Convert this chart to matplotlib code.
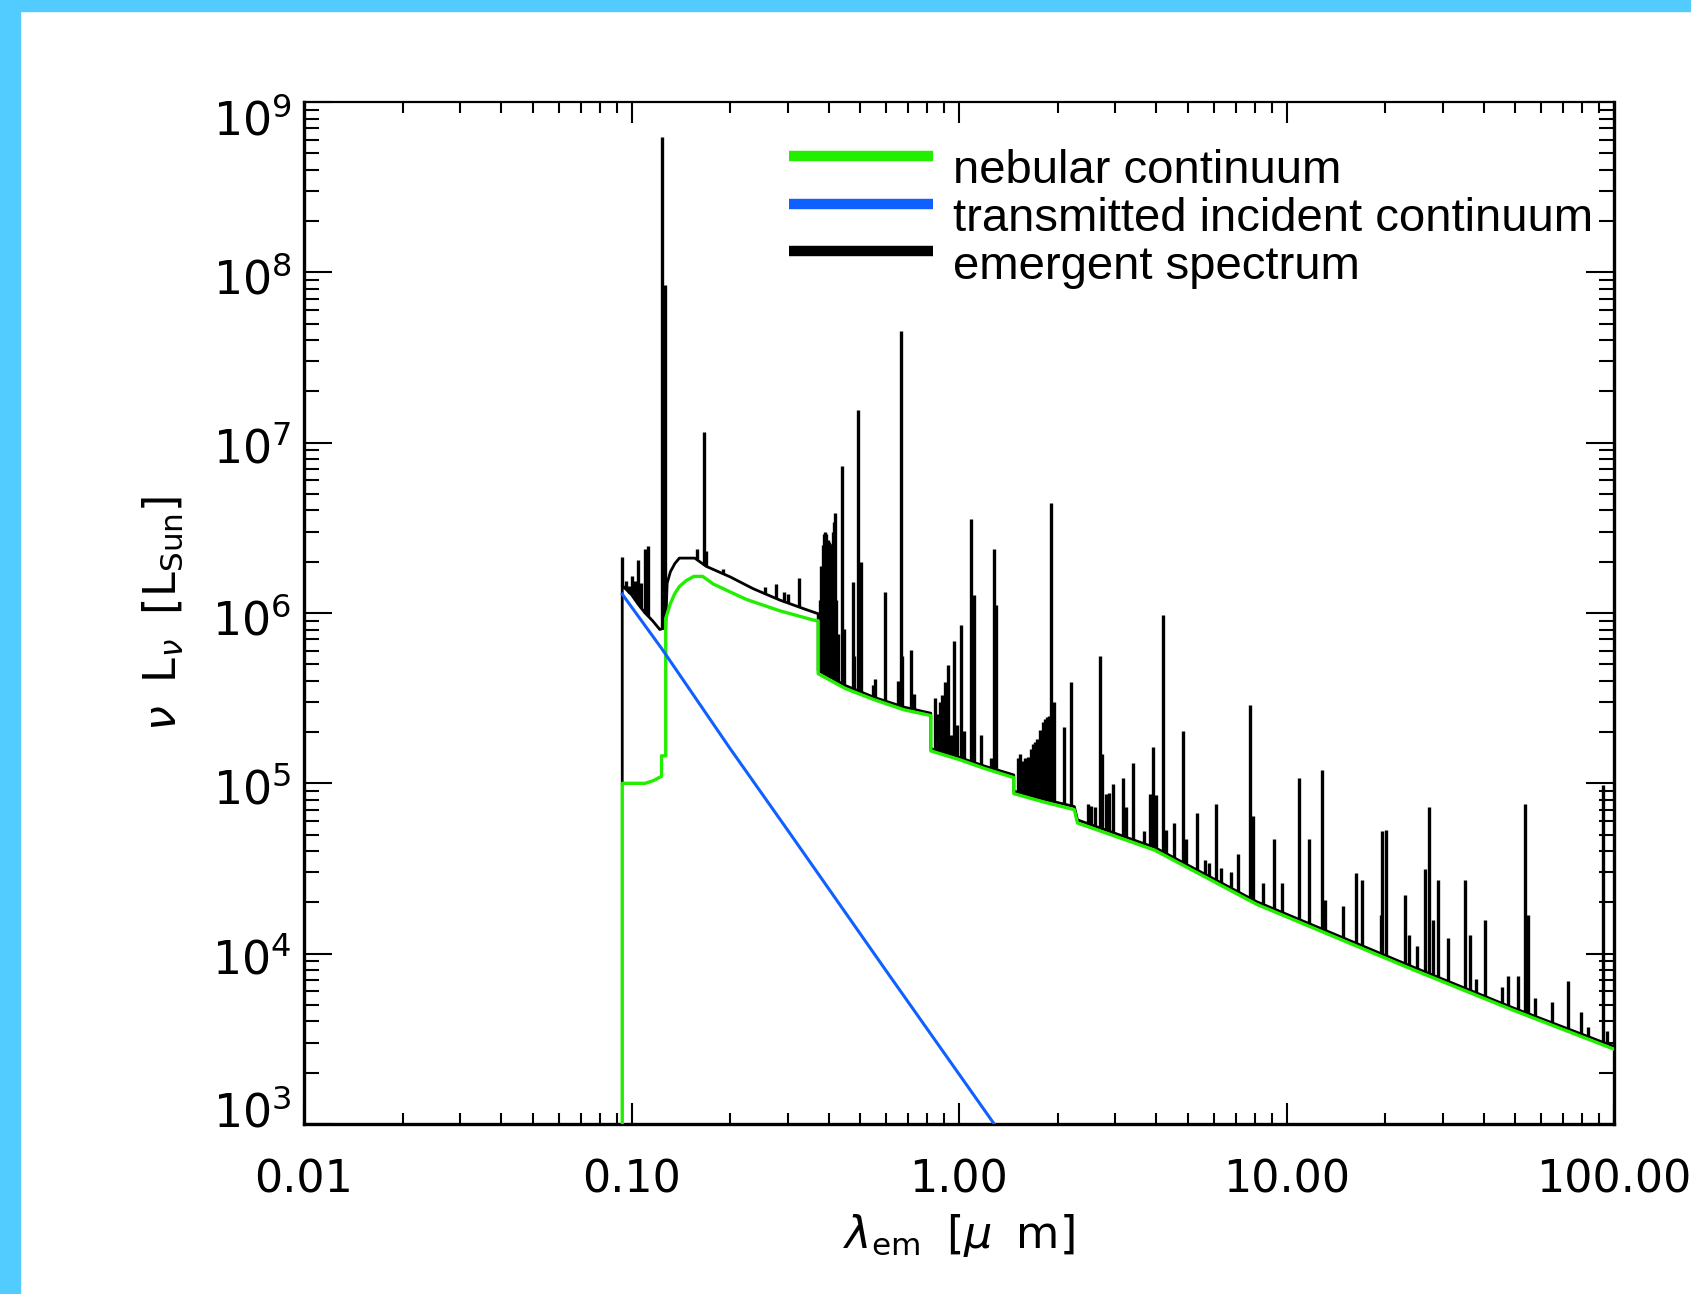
import numpy as np
import matplotlib
matplotlib.use("Agg")
import matplotlib.pyplot as plt
from matplotlib.patches import Rectangle
from matplotlib.lines import Line2D
from matplotlib.legend_handler import HandlerLine2D
from matplotlib.ticker import LogLocator, NullFormatter
from matplotlib.transforms import ScaledTranslation

# nebular continuum (green), wavelength in micron, nu L_nu in L_sun
neb_lam = [0.0937, 0.0937, 0.110, 0.117, 0.1235, 0.1235, 0.1272, 0.1272, 0.1315,
           0.1356, 0.140, 0.147, 0.155, 0.165, 0.1776, 0.20, 0.2245, 0.2837, 0.3585,
           0.3715, 0.3715, 0.45, 0.55, 0.68, 0.82, 0.82, 1.0, 1.2, 1.47, 1.47, 1.8,
           2.25, 2.3, 3.96, 8.1, 23.8, 48.6, 100.0]
neb_lum = [1e2, 1.0e5, 1.0e5, 1.04e5, 1.1e5, 1.45e5, 1.45e5, 9.3e5, 1.14e6,
           1.3e6, 1.43e6, 1.55e6, 1.64e6, 1.64e6, 1.48e6, 1.33e6, 1.2e6, 1.03e6, 9.1e5,
           9.0e5, 4.4e5, 3.6e5, 3.1e5, 2.7e5, 2.5e5, 1.55e5, 1.38e5, 1.22e5, 1.08e5, 8.7e4, 7.8e4,
           7.0e4, 5.85e4, 4.05e4, 1.95e4, 8.2e3, 4.7e3, 2.75e3]

# transmitted incident continuum (blue)
inc_lam = [0.0937, 0.1235, 0.20, 0.30, 0.60, 1.30, 2.0]
inc_lum = [1.29e6, 6.2e5, 1.6e5, 5.3e4, 7.9e3, 9.6e2, 2.9e2]

# emergent spectrum, continuum level under the lines (black)
emg_lam = [0.0937, 0.0937, 0.100, 0.105, 0.110, 0.116, 0.122, 0.127, 0.1285, 0.1315,
           0.1356, 0.140, 0.156, 0.169, 0.200, 0.235, 0.284, 0.34, 0.3715, 0.3715,
           0.45, 0.55, 0.68, 0.82, 0.82, 1.0, 1.2, 1.47, 1.47, 1.8, 2.25, 2.3, 3.96,
           8.1, 23.8, 48.6, 100.0]
emg_lum = [1.0e5, 1.45e6, 1.28e6, 1.12e6, 1.0e6, 9.0e5, 8.0e5, 8.2e5, 1.5e6, 1.75e6,
           1.95e6, 2.1e6, 2.1e6, 1.88e6, 1.63e6, 1.39e6, 1.19e6, 1.05e6, 9.9e5, 4.6e5,
           3.75e5, 3.2e5, 2.8e5, 2.58e5, 1.6e5, 1.42e5, 1.26e5, 1.12e5, 9.0e4, 8.1e4, 7.3e4, 6.1e4, 4.2e4,
           2.02e4, 8.5e3, 4.85e3, 2.85e3]

# emission line peaks of the emergent spectrum
line_lam = [0.0937, 0.0962, 0.0985, 0.1003, 0.1025, 0.1048, 0.1072, 0.1098, 0.1125,
            0.1235, 0.1264,
            0.158, 0.1663, 0.169, 0.1905, 0.2553, 0.2759, 0.2917, 0.300, 0.3245,
            0.3758, 0.379, 0.383, 0.3865, 0.389, 0.393, 0.397, 0.401, 0.4045, 0.4078,
            0.411, 0.414, 0.4176, 0.421, 0.426, 0.4397, 0.445, 0.473, 0.478, 0.4920,
            0.5036, 0.545, 0.553, 0.5934, 0.6517, 0.6673, 0.671, 0.716, 0.729,
            0.842, 0.86, 0.877, 0.89, 0.904, 0.924, 0.944, 0.964, 0.985, 1.015, 1.036,
            1.089, 1.114, 1.171, 1.25, 1.280, 1.30,
            1.516, 1.538, 1.56, 1.59, 1.627, 1.655, 1.688, 1.71, 1.736, 1.77, 1.80,
            1.83, 1.85, 1.88, 1.906, 1.925, 1.949, 2.093, 2.193,
            2.47, 2.53, 2.60, 2.69, 2.74, 2.82, 2.88, 2.954, 3.172, 3.24, 3.41, 3.66,
            3.82, 3.92, 4.00, 4.197, 4.30, 4.53, 4.83, 4.95, 5.32, 5.64, 5.8, 6.09,
            6.3, 6.78, 7.09, 7.72, 7.9, 8.5, 9.14, 9.7, 10.9, 11.75, 12.85, 13.1,
            14.84, 16.34, 17.0, 19.4, 19.55, 20.1, 23.0, 23.6, 25.1, 26.5, 27.2, 28.0,
            29.0, 31.2, 35.1, 36.3, 38.0, 40.5, 45.4, 47.4, 51.0, 53.3, 54.7, 57.3,
            64.5, 72.4, 79.3, 83.0, 92.4, 95.0]
line_peak = [2.12e6, 1.55e6, 1.45e6, 1.66e6, 1.55e6, 2.06e6, 1.5e6, 2.39e6, 2.46e6,
             6.27e8, 8.46e7,
             2.39e6, 1.15e7, 2.3e6, 1.82e6, 1.42e6, 1.48e6, 1.33e6, 1.3e6, 1.6e6,
             1.19e6, 1.9e6, 2.5e6, 2.9e6, 3.0e6, 2.9e6, 2.7e6, 2.6e6, 2.55e6, 2.54e6,
             3.0e6, 3.4e6, 3.87e6, 1.2e6, 7.5e5, 7.3e6, 8.1e5, 1.52e6, 5.6e5, 1.55e7,
             2.0e6, 3.8e5, 4.08e5, 1.32e6, 4.0e5, 4.52e7, 5.6e5, 6.1e5, 3.33e5,
             3.17e5, 2.54e5, 3.02e5, 3.3e5, 3.95e5, 4.97e5, 1.93e5, 6.88e5, 2.2e5, 8.46e5, 2.02e5,
             3.55e6, 1.28e6, 1.93e5, 1.41e5, 2.36e6, 1.11e6,
             1.41e5, 1.48e5, 1.35e5, 1.40e5, 1.43e5, 1.6e5, 1.70e5, 1.75e5, 1.82e5, 2.05e5, 2.28e5,
             2.4e5, 2.46e5, 2.5e5, 4.43e6, 2.9e5, 3.02e5, 2.14e5, 3.95e5,
             7.55e4, 7.4e4, 7.3e4, 5.62e5, 1.48e5, 8.66e4, 8.8e4, 9.95e4, 1.08e5, 7.29e4, 1.31e5, 5.27e4,
             8.66e4, 1.64e5, 8.5e4, 9.7e5, 5.3e4, 5.85e4, 2.04e5, 4.69e4, 6.67e4, 3.53e4, 3.4e4, 7.6e4,
             3.2e4, 3.03e4, 3.87e4, 2.9e5, 6.4e4, 2.6e4, 4.69e4, 2.6e4, 1.08e5, 4.69e4, 1.19e5, 2.06e4,
             1.9e4, 2.99e4, 2.72e4, 1.69e4, 5.27e4, 5.3e4, 2.21e4, 1.28e4, 1.11e4, 3.14e4, 7.29e4, 1.58e4,
             2.72e4, 1.24e4, 2.72e4, 1.28e4, 7.1e3, 1.58e4, 6.4e3, 7.37e3, 7.37e3, 7.6e4, 1.69e4, 5.5e3,
             5.2e3, 6.88e3, 4.55e3, 3.7e3, 9.8e4, 3.5e3]

x_ticks = [0.01, 0.1, 1.0, 10.0, 100.0]
x_tick_labels = ["0.01", "0.10", "1.00", "10.00", "100.00"]
y_ticks = [1e3, 1e4, 1e5, 1e6, 1e7, 1e8, 1e9]
y_tick_labels = [r"$10^{%d}$" % e for e in range(3, 10)]
legend_labels = ["nebular continuum", "transmitted incident continuum", "emergent spectrum"]

green = "#22EE00"
blue = "#1060FF"
frame_blue = "#52CBFE"


class RaisedLine(HandlerLine2D):
    # legend keys sit at the top of the x-height, not the middle of the text
    def create_artists(self, legend, orig_handle, xdescent, ydescent, width, height,
                       fontsize, trans):
        arts = super().create_artists(legend, orig_handle, xdescent, ydescent, width,
                                      height, fontsize, trans)
        for a in arts:
            a.set_ydata(np.asarray(a.get_ydata()) + 7.6)
        return arts


fig = plt.figure(figsize=(16.91, 12.94), dpi=100)
fig.patches.append(Rectangle((0, 0), 20 / 1691, 1, transform=fig.transFigure,
                             color=frame_blue, zorder=0))
fig.patches.append(Rectangle((0, 1 - 11 / 1294), 1, 11 / 1294, transform=fig.transFigure,
                             color=frame_blue, zorder=0))

ax = fig.add_axes([0.17978, 0.13138, 0.77469, 0.78980])
ax.set_xscale("log")
ax.set_yscale("log")

# emergent spectrum: continuum level plus lines
(h_emg,) = ax.plot(emg_lam, emg_lum, color="k", lw=2.0, zorder=2)
base = 10 ** np.interp(np.log10(line_lam), np.log10(emg_lam), np.log10(emg_lum))
ax.vlines(line_lam, base, line_peak, color="k", lw=2.4, zorder=2)

(h_neb,) = ax.plot(neb_lam, neb_lum, color=green, lw=2.4, zorder=3)
(h_inc,) = ax.plot(inc_lam, inc_lum, color=blue, lw=2.2, zorder=4)

ax.set_xlim(0.01, 100)
ax.set_ylim(1e3, 1e9)

ax.set_xticks(x_ticks)
ax.set_xticklabels(x_tick_labels, fontsize=32)
ax.set_yticks(y_ticks)
ax.set_yticklabels(y_tick_labels, fontsize=33)
ax.xaxis.set_minor_locator(LogLocator(base=10, subs=np.arange(2, 10), numticks=20))
ax.yaxis.set_minor_locator(LogLocator(base=10, subs=np.arange(2, 10), numticks=20))
ax.xaxis.set_minor_formatter(NullFormatter())
ax.yaxis.set_minor_formatter(NullFormatter())

ax.tick_params(axis="both", which="both", direction="in", top=True, right=True,
               width=1.5, color="k")
ax.tick_params(axis="x", which="major", length=15, pad=25)
ax.tick_params(axis="x", which="minor", length=7.7)
ax.tick_params(axis="y", which="major", length=20, pad=9)
ax.tick_params(axis="y", which="minor", length=11)
for side in ["left", "right", "bottom"]:
    ax.spines[side].set_linewidth(2.4)
ax.spines["top"].set_linewidth(1.6)

# y tick labels: end labels are pulled inside the axis range, as IDL does
ylab_shift = [11.5, -2.5, -2.5, -2.5, -2.5, -2.5, -10.8]
for lab, dy in zip(ax.get_yticklabels(), ylab_shift):
    lab.set_transform(lab.get_transform() + ScaledTranslation(0, dy / 72, fig.dpi_scale_trans))

ax.set_xlabel(r"$\lambda_{\rm em}\;\;[\mu\;\;{\rm m}]$", fontsize=32)
ax.set_ylabel(r"$\nu\;\;{\rm L}_\nu\;\;[{\rm L}_{\rm Sun}]$", fontsize=32)
ax.xaxis.set_label_coords(0.5, -0.086)
ax.yaxis.set_label_coords(-0.091, 0.5)

leg = ax.legend([h_neb, h_inc, h_emg], legend_labels, loc="upper left",
                bbox_to_anchor=(0.3702, 0.954), frameon=False, borderpad=0,
                borderaxespad=0, handlelength=3.04, handletextpad=0.44,
                labelspacing=0.08, prop={"family": ["Liberation Sans", "DejaVu Sans"], "size": 34},
                handler_map={Line2D: RaisedLine()})
for h in leg.get_lines():
    h.set_linewidth(7.5)
    h.set_solid_capstyle("butt")

fig.savefig("out.png", dpi=100)
